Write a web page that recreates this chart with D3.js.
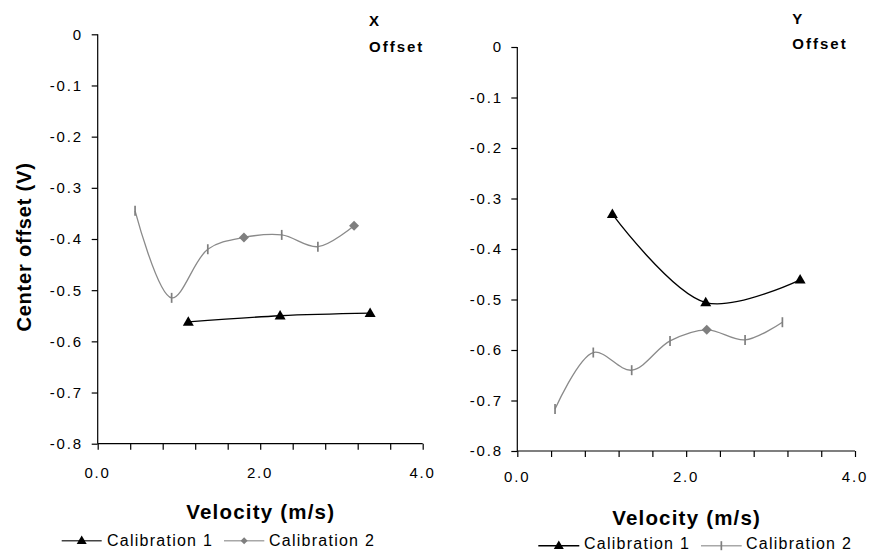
<!DOCTYPE html>
<html>
<head>
<meta charset="utf-8">
<script src="https://cdn.jsdelivr.net/npm/d3@7"></script>
<style>
  html, body { margin: 0; padding: 0; background: #fff; }
  svg { display: block; font-family: "Liberation Sans", Arial, sans-serif; }
</style>
</head>
<body>
<svg id="chart" width="869" height="552"></svg>
<script>
// ---------------- DATA ----------------
const yTickValues = [0, -0.1, -0.2, -0.3, -0.4, -0.5, -0.6, -0.7, -0.8];
const yTickLabels = ["0", "-0.1", "-0.2", "-0.3", "-0.4", "-0.5", "-0.6", "-0.7", "-0.8"];
const xTickValues = [0, 0.4, 0.8, 1.2, 1.6, 2.0, 2.4, 2.8, 3.2, 3.6, 4.0];
const xTickLabels = { 0: "0.0", 2: "2.0", 4: "4.0" };

const seriesNames = ["Calibration 1", "Calibration 2"];

// X offset panel
const xOffCal1Velocity = [1.115, 2.245, 3.353];
const xOffCal1Values   = [-0.562, -0.550, -0.545];
const xOffCal2Velocity = [0.46, 0.91, 1.355, 1.80, 2.265, 2.71, 3.155];
const xOffCal2Values   = [-0.345, -0.515, -0.420, -0.397, -0.392, -0.415, -0.374];
const xOffCal2DiamondIdx = [3, 6];

// Y offset panel
const yOffCal1Velocity = [1.126, 2.232, 3.35];
const yOffCal1Values   = [-0.331, -0.506, -0.461];
const yOffCal2Velocity = [0.447, 0.90, 1.355, 1.809, 2.244, 2.698, 3.14];
const yOffCal2Values   = [-0.717, -0.605, -0.640, -0.582, -0.560, -0.580, -0.545];
const yOffCal2DiamondIdx = [4];

// ---------------- DRAW ----------------
const svg = d3.select("#chart");
const GRAY_LINE = "#8a8a8a";
const GRAY_MARK = "#7f7f7f";

const TICK_FS = 15, TICK_LS = 1.8;

const panels = [
  {
    x0: 97.7, x1: 422.7, yTop: 34.3, yBot: 443.7,
    yLabelEnd: 81, xLabelBase: 477.5,
    title: "X", titleX: 369, titleY: 25.7, offY: 51.7,
    velBase: 518.5,
    c1x: xOffCal1Velocity, c1y: xOffCal1Values,
    c2x: xOffCal2Velocity, c2y: xOffCal2Values, diamonds: xOffCal2DiamondIdx,
    yTitle: true,
    legend: { y: 540.7, l1: [61.7, 101.7], t1: 107, l2: [224, 264.3], t2: 269, base: 545.8, mark2: "diamond", c1Line: "#444" }
  },
  {
    x0: 517.3, x1: 855, yTop: 47, yBot: 451,
    yLabelEnd: 501, xLabelBase: 482,
    title: "Y", titleX: 792.3, titleY: 24, offY: 49,
    velBase: 525.2,
    c1x: yOffCal1Velocity, c1y: yOffCal1Values,
    c2x: yOffCal2Velocity, c2y: yOffCal2Values, diamonds: yOffCal2DiamondIdx,
    yTitle: false,
    legend: { y: 545.7, l1: [538.3, 579.3], t1: 584, l2: [701, 741.7], t2: 746, base: 549.3, mark2: "tick", c1Line: "#000" }
  }
];

const line = d3.line().curve(d3.curveCatmullRom.alpha(0.5));

function drawTriangle(g, cx, cy, w, h) {
  g.append("path")
    .attr("d", `M${cx},${cy - h * 0.6} L${cx + w / 2},${cy + h * 0.4} L${cx - w / 2},${cy + h * 0.4} Z`)
    .attr("fill", "#000");
}
function drawDiamond(g, cx, cy, r) {
  g.append("path")
    .attr("d", `M${cx},${cy - r} L${cx + r},${cy} L${cx},${cy + r} L${cx - r},${cy} Z`)
    .attr("fill", GRAY_MARK);
}
function drawTick(g, cx, cy, h) {
  g.append("line")
    .attr("x1", cx).attr("x2", cx).attr("y1", cy - h / 2).attr("y2", cy + h / 2)
    .attr("stroke", GRAY_MARK).attr("stroke-width", 1.7);
}

panels.forEach(p => {
  const x = d3.scaleLinear().domain([0, 4]).range([p.x0, p.x1]);
  const y = d3.scaleLinear().domain([-0.8, 0]).range([p.yBot, p.yTop]);
  const g = svg.append("g");

  // Y axis
  const yAxis = d3.axisLeft(y).tickValues(yTickValues).tickSize(6).tickSizeOuter(0).tickFormat("");
  const ya = g.append("g").attr("transform", `translate(${p.x0},0)`).call(yAxis);
  ya.selectAll("path, line").attr("stroke", "#000").attr("stroke-width", 1.2);
  ya.select(".domain").attr("d", `M0,${p.yTop}V${p.yBot}`);

  yTickValues.forEach((v, i) => {
    g.append("text")
      .attr("x", p.yLabelEnd + TICK_LS)
      .attr("y", y(v))
      .attr("dy", "0.36em")
      .attr("text-anchor", "end")
      .attr("font-size", TICK_FS)
      .attr("letter-spacing", TICK_LS)
      .attr("fill", "#000")
      .text(yTickLabels[i]);
  });

  // X axis
  const xAxis = d3.axisBottom(x).tickValues(xTickValues).tickSize(6).tickSizeOuter(0).tickFormat("");
  const xa = g.append("g").attr("transform", `translate(0,${p.yBot})`).call(xAxis);
  xa.selectAll("path, line").attr("stroke", "#000").attr("stroke-width", 1.2);
  xa.select(".domain").attr("d", `M${p.x0},0H${p.x1}`);

  Object.keys(xTickLabels).forEach(k => {
    g.append("text")
      .attr("x", x(+k) + TICK_LS / 2 - 1)
      .attr("y", p.xLabelBase)
      .attr("text-anchor", "middle")
      .attr("font-size", TICK_FS)
      .attr("letter-spacing", TICK_LS)
      .attr("fill", "#000")
      .text(xTickLabels[k]);
  });

  // Titles
  g.append("text").attr("x", p.titleX).attr("y", p.titleY)
    .attr("font-size", 15).attr("font-weight", "bold").attr("letter-spacing", 2)
    .text(p.title);
  g.append("text").attr("x", p.titleX).attr("y", p.offY)
    .attr("font-size", 15).attr("font-weight", "bold").attr("letter-spacing", 2)
    .text("Offset");

  g.append("text")
    .attr("x", (p.x0 + p.x1) / 2 + 0.5)
    .attr("y", p.velBase)
    .attr("text-anchor", "middle")
    .attr("font-size", 20.5).attr("font-weight", "bold").attr("letter-spacing", 1.2)
    .text("Velocity (m/s)");

  if (p.yTitle) {
    g.append("text")
      .attr("transform", "translate(31,247) rotate(-90)")
      .attr("text-anchor", "middle")
      .attr("font-size", 20).attr("font-weight", "bold").attr("letter-spacing", 0.8)
      .text("Center offset (V)");
  }

  // Series 2 (gray)
  const pts2 = p.c2x.map((v, i) => [x(v), y(p.c2y[i])]);
  g.append("path").attr("d", line(pts2)).attr("fill", "none")
    .attr("stroke", GRAY_LINE).attr("stroke-width", 1.3);
  pts2.forEach((pt, i) => {
    if (p.diamonds.includes(i)) drawDiamond(g, pt[0], pt[1], 5);
    else drawTick(g, pt[0], pt[1], 10);
  });

  // Series 1 (black)
  const pts1 = p.c1x.map((v, i) => [x(v), y(p.c1y[i])]);
  g.append("path").attr("d", line(pts1)).attr("fill", "none")
    .attr("stroke", "#000").attr("stroke-width", 1.3);
  pts1.forEach(pt => drawTriangle(g, pt[0], pt[1], 11, 9.5));

  // Legend
  const L = p.legend;
  g.append("line").attr("x1", L.l1[0]).attr("x2", L.l1[1]).attr("y1", L.y).attr("y2", L.y)
    .attr("stroke", L.c1Line).attr("stroke-width", 1.4);
  drawTriangle(g, (L.l1[0] + L.l1[1]) / 2, L.y, 10, 8.5);
  g.append("text").attr("x", L.t1).attr("y", L.base)
    .attr("font-size", 16).attr("letter-spacing", 1.25).text(seriesNames[0]);

  g.append("line").attr("x1", L.l2[0]).attr("x2", L.l2[1]).attr("y1", L.y).attr("y2", L.y)
    .attr("stroke", "#a8a8a8").attr("stroke-width", 1.4);
  const m2 = (L.l2[0] + L.l2[1]) / 2;
  if (L.mark2 === "diamond") drawDiamond(g, m2, L.y, 3.5);
  else drawTick(g, m2, L.y, 9);
  g.append("text").attr("x", L.t2).attr("y", L.base)
    .attr("font-size", 16).attr("letter-spacing", 1.25).text(seriesNames[1]);
});
</script>
</body>
</html>
